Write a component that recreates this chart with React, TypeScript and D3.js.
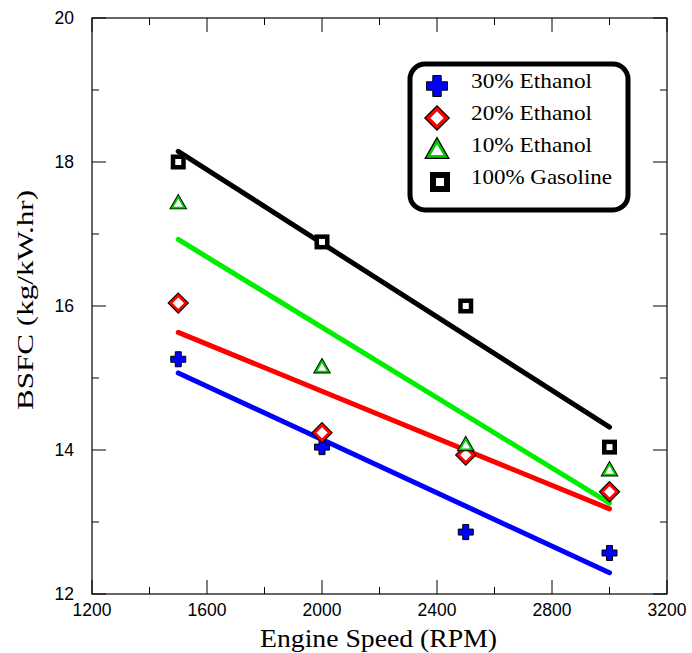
import React from "react";
import * as d3 from "d3";

const rpm = [1500, 2000, 2500, 3000];
const eth30 = [15.26, 14.04, 12.86, 12.57];
const eth20 = [16.04, 14.24, 13.93, 13.42];
const eth10 = [17.43, 15.15, 14.07, 13.72];
const gasoline = [18.0, 16.89, 16.0, 14.04];
const seriesNames = ["30% Ethanol", "20% Ethanol", "10% Ethanol", "100% Gasoline"];
const lineColors = ["#0000ff", "#ff0000", "#00ee00", "#000000"];
const xTicks = [1200, 1600, 2000, 2400, 2800, 3200];
const yTicks = [12, 14, 16, 18, 20];

const W = 692, H = 653;
const L = 92, R = 667, T = 18, B = 594;

function fit(xs: number[], ys: number[]) {
  const mx = d3.mean(xs)!, my = d3.mean(ys)!;
  let num = 0, den = 0;
  xs.forEach((x, i) => { num += (x - mx) * (ys[i] - my); den += (x - mx) ** 2; });
  const b = num / den;
  return (x: number) => my + b * (x - mx);
}

function Marker({ kind, x, y, s }: { kind: number; x: number; y: number; s: number }) {
  if (kind === 0) {
    const a = s / 2, t = s * 0.2;
    const p = `M${x - t},${y - a}H${x + t}V${y - t}H${x + a}V${y + t}H${x + t}V${y + a}H${x - t}V${y + t}H${x - a}V${y - t}H${x - t}Z`;
    return <path d={p} fill="#0000ff" stroke="#000" strokeWidth={1} />;
  }
  if (kind === 1) {
    const a = s / 2;
    const p = `M${x},${y - a}L${x + a},${y}L${x},${y + a}L${x - a},${y}Z`;
    return (
      <g>
        <path d={p} fill="#fff" stroke="#000" strokeWidth={s * 0.32} strokeLinejoin="miter" />
        <path d={p} fill="#fff" stroke="#ff0000" strokeWidth={s * 0.18} strokeLinejoin="miter" />
      </g>
    );
  }
  if (kind === 2) {
    const a = s / 2;
    const p = `M${x},${y - a}L${x + a},${y + a * 0.75}L${x - a},${y + a * 0.75}Z`;
    return (
      <g>
        <path d={p} fill="#fff" stroke="#000" strokeWidth={s * 0.3} strokeLinejoin="miter" />
        <path d={p} fill="#fff" stroke="#00cc00" strokeWidth={s * 0.15} strokeLinejoin="miter" />
      </g>
    );
  }
  const a = s / 2, sw = s * 0.3;
  return <rect x={x - a + sw / 2} y={y - a + sw / 2} width={s - sw} height={s - sw} fill="#fff" stroke="#000" strokeWidth={sw} />;
}

export default function App() {
  const x = d3.scaleLinear().domain([1200, 3200]).range([L, R]);
  const y = d3.scaleLinear().domain([12, 20]).range([B, T]);
  const series = [eth30, eth20, eth10, gasoline];
  const xMinor = d3.range(1400, 3200, 400);
  const yMinor = d3.range(13, 20, 2);
  const x0 = rpm[0], x1 = rpm[rpm.length - 1];
  const legendY = [88, 120, 152, 184];
  const legendText = [121, 121, 121, 141];
  return (
    <svg width={W} height={H} style={{ position: "absolute", left: 0, top: 0, background: "#fff" }}>
      <rect width={W} height={H} fill="#fff" />
      {/* frame */}
      <rect x={L} y={T} width={R - L} height={B - T} fill="none" stroke="#000" strokeWidth={1.2} />
      {/* x ticks */}
      {xTicks.map((t) => (
        <g key={"xt" + t}>
          <line x1={x(t)} x2={x(t)} y1={B} y2={B - 14} stroke="#000" strokeWidth={1} />
          <line x1={x(t)} x2={x(t)} y1={T} y2={T + 14} stroke="#000" strokeWidth={1} />
          <text x={x(t)} y={B + 22} textAnchor="middle" fontFamily="Liberation Sans, Arial, sans-serif" fontSize={17.5}>{t}</text>
        </g>
      ))}
      {xMinor.map((t) => (
        <g key={"xm" + t}>
          <line x1={x(t)} x2={x(t)} y1={B} y2={B - 7} stroke="#000" strokeWidth={1} />
          <line x1={x(t)} x2={x(t)} y1={T} y2={T + 7} stroke="#000" strokeWidth={1} />
        </g>
      ))}
      {yTicks.map((t) => (
        <g key={"yt" + t}>
          <line x1={L} x2={L + 14} y1={y(t)} y2={y(t)} stroke="#000" strokeWidth={1} />
          <line x1={R} x2={R - 14} y1={y(t)} y2={y(t)} stroke="#000" strokeWidth={1} />
          <text x={L - 18} y={y(t) + 6} textAnchor="end" fontFamily="Liberation Sans, Arial, sans-serif" fontSize={17.5}>{t}</text>
        </g>
      ))}
      {yMinor.map((t) => (
        <g key={"ym" + t}>
          <line x1={L} x2={L + 7} y1={y(t)} y2={y(t)} stroke="#000" strokeWidth={1} />
          <line x1={R} x2={R - 7} y1={y(t)} y2={y(t)} stroke="#000" strokeWidth={1} />
        </g>
      ))}
      {/* axis titles */}
      <text x={260} y={647} textLength={237} lengthAdjust="spacingAndGlyphs" fontFamily="Liberation Serif, Times New Roman, serif" fontSize={25}>Engine Speed (RPM)</text>
      <text transform={`translate(33,410) rotate(-90)`} textLength={220} lengthAdjust="spacingAndGlyphs" fontFamily="Liberation Serif, Times New Roman, serif" fontSize={24}>BSFC (kg/kW.hr)</text>
      {/* fit lines */}
      {series.map((s, i) => {
        const f = fit(rpm, s);
        return <line key={"l" + i} x1={x(x0)} y1={y(f(x0))} x2={x(x1)} y2={y(f(x1))} stroke={lineColors[i]} strokeWidth={5} strokeLinecap="round" />;
      })}
      {/* markers */}
      {series.map((s, i) => (
        <g key={"m" + i}>
          {s.map((v, j) => <Marker key={j} kind={i} x={x(rpm[j])} y={y(v)} s={i === 3 ? 15 : i === 2 ? 12 : 15} />)}
        </g>
      ))}
      {/* legend */}
      <rect x={410} y={64} width={218} height={146} rx={15} ry={15} fill="#fff" stroke="#000" strokeWidth={5} />
      {seriesNames.map((n, i) => (
        <g key={"lg" + i}>
          <Marker kind={i} x={i === 3 ? 440 : 437} y={legendY[i] - 2} s={i === 3 ? 20 : i === 2 ? 17 : i === 1 ? 18 : 21} />
          <text x={471} y={legendY[i]} textLength={legendText[i]} lengthAdjust="spacingAndGlyphs" fontFamily="Liberation Serif, Times New Roman, serif" fontSize={21}>{n}</text>
        </g>
      ))}
    </svg>
  );
}
